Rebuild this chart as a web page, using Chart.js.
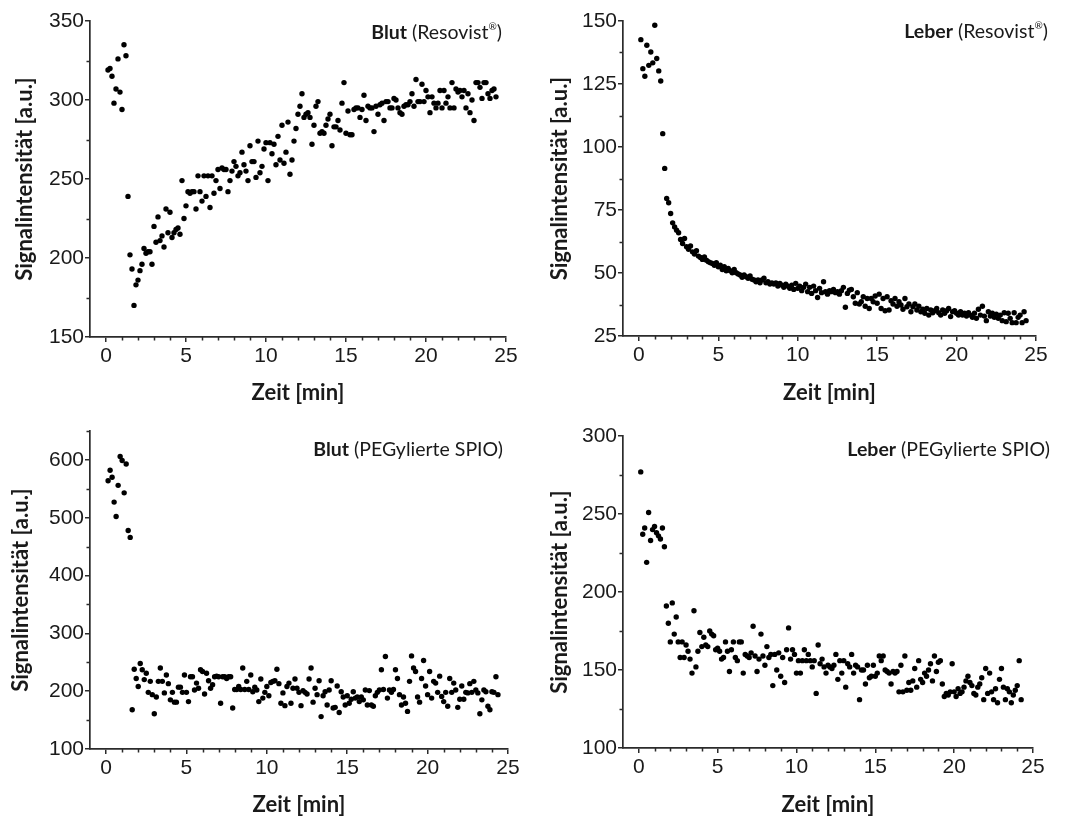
<!DOCTYPE html>
<html>
<head>
<meta charset="utf-8">
<script src="https://cdn.jsdelivr.net/npm/chart.js@4.4.1/dist/chart.umd.min.js"></script>
<style>
    html, body { margin: 0; padding: 0; background: #fff; }
    #wrap { position: relative; width: 1069px; height: 818px; overflow: hidden; }
    canvas { position: absolute; }
</style>
</head>
<body>
<div id="wrap">
    <canvas id="blutResovist" width="534" height="410" style="left:0;top:0"></canvas>
    <canvas id="leberResovist" width="535" height="410" style="left:534px;top:0"></canvas>
    <canvas id="blutPeg" width="534" height="408" style="left:0;top:410px"></canvas>
    <canvas id="leberPeg" width="535" height="408" style="left:534px;top:410px"></canvas>
</div>
<script>

// Zeitpunkte der Messungen [min]
const zeitMin = [
    0.125, 0.25, 0.375, 0.5, 0.625, 0.75, 0.875, 1,
    1.125, 1.25, 1.375, 1.5, 1.625, 1.75, 1.875, 2,
    2.125, 2.25, 2.375, 2.5, 2.625, 2.75, 2.875, 3,
    3.125, 3.25, 3.375, 3.5, 3.625, 3.75, 3.875, 4,
    4.125, 4.25, 4.375, 4.5, 4.625, 4.75, 4.875, 5,
    5.125, 5.25, 5.375, 5.5, 5.625, 5.75, 5.875, 6,
    6.125, 6.25, 6.375, 6.5, 6.625, 6.75, 6.875, 7,
    7.125, 7.25, 7.375, 7.5, 7.625, 7.75, 7.875, 8,
    8.125, 8.25, 8.375, 8.5, 8.625, 8.75, 8.875, 9,
    9.125, 9.25, 9.375, 9.5, 9.625, 9.75, 9.875, 10,
    10.125, 10.25, 10.375, 10.5, 10.625, 10.75, 10.875, 11,
    11.125, 11.25, 11.375, 11.5, 11.625, 11.75, 11.875, 12,
    12.125, 12.25, 12.375, 12.5, 12.625, 12.75, 12.875, 13,
    13.125, 13.25, 13.375, 13.5, 13.625, 13.75, 13.875, 14,
    14.125, 14.25, 14.375, 14.5, 14.625, 14.75, 14.875, 15,
    15.125, 15.25, 15.375, 15.5, 15.625, 15.75, 15.875, 16,
    16.125, 16.25, 16.375, 16.5, 16.625, 16.75, 16.875, 17,
    17.125, 17.25, 17.375, 17.5, 17.625, 17.75, 17.875, 18,
    18.125, 18.25, 18.375, 18.5, 18.625, 18.75, 18.875, 19,
    19.125, 19.25, 19.375, 19.5, 19.625, 19.75, 19.875, 20,
    20.125, 20.25, 20.375, 20.5, 20.625, 20.75, 20.875, 21,
    21.125, 21.25, 21.375, 21.5, 21.625, 21.75, 21.875, 22,
    22.125, 22.25, 22.375, 22.5, 22.625, 22.75, 22.875, 23,
    23.125, 23.25, 23.375, 23.5, 23.625, 23.75, 23.875, 24,
    24.125, 24.25, 24.375
];

const blutResovist = [
    319, 320, 315, 298, 307, 326, 305, 294, 335, 328,
    239, 202, 193, 170, 183, 186, 192, 196, 206, 203,
    204, 204, 196, 220, 210, 226, 211, 214, 207, 231,
    216, 229, 213, 216, 218, 219, 215, 249, 225, 233,
    242, 241, 242, 242, 231, 252, 242, 236, 252, 239,
    252, 232, 252, 241, 249, 256, 244, 257, 256, 256,
    242, 249, 255, 261, 258, 252, 254, 267, 259, 255,
    249, 271, 261, 261, 251, 274, 254, 258, 269, 273,
    249, 273, 266, 272, 259, 277, 262, 284, 260, 267, 286,
    253, 262, 274, 282,
    291, 296, 304, 289, 291, 292, 289, 272, 284, 296,
    299, 279, 280, 279, 284, 288, 291, 271, 283, 283,
    287, 281, 298, 311, 279, 293, 278, 278, 294, 295,
    295, 289, 294, 303, 287, 296, 295, 295, 280, 296,
    291, 297, 298, 287, 299, 299, 295, 295,
    301, 300, 295, 292, 291, 296, 297, 297, 299, 304,
    296, 313, 299, 299, 310, 299, 306, 302, 292, 302,
    298, 295, 298, 306, 295, 306, 298, 302, 295, 311,
    295, 307, 305, 306, 302, 306, 295, 304, 292, 300,
    287, 311, 311, 308, 301, 311, 311, 304, 301, 306,
    307, 302
];

const leberResovist = [
    142.6, 131.1, 128.1, 140.4, 132.4, 137.7, 133.4, 148.3, 135.1, 130.2,
    126.2, 105.3, 91.5, 79.6, 77.9, 73.6, 69.9, 68.3, 67.0, 66.0,
    63.3, 61.7, 63.7, 60.4, 59.4, 60.7, 58.4, 57.5, 58.8, 56.7,
    56.2, 55.4, 56.4, 55.1, 54.5, 54.1, 53.8, 53.1, 54.1, 52.5,
    53.1, 51.4, 52.5, 50.9, 51.8, 50.9, 50.1, 51.4, 50.1, 49.6,
    49.2, 48.3, 49.2, 48.5, 47.9, 48.8, 47.5, 47.2, 46.5, 47.2,
    46.1, 47.2, 47.9, 46.1, 46.5, 45.6, 46.1, 45.6, 46.1,
    44.8, 45.9, 45.2, 44.3, 45.6, 44.8, 43.9, 45.2, 43.5, 45.9,
    43.9, 44.8, 43.0, 44.3, 45.6, 42.6, 44.3, 41.9, 44.8, 43.0,
    40.3, 43.9, 42.2, 46.5, 42.6, 41.6, 43.0, 42.6, 43.5, 42.2,
    42.6, 41.6, 43.0, 44.3, 36.4, 41.9, 43.2, 43.5, 40.6, 38.0,
    42.2, 37.7, 38.6, 40.6, 36.8, 39.9, 35.9, 39.9, 38.6, 40.9,
    38.0, 41.6, 35.9, 39.9, 35.0, 40.6, 35.3, 39.0, 37.7, 39.9,
    36.8, 38.6, 37.3, 35.6, 39.9, 36.6, 37.7, 34.6, 36.6, 37.7,
    35.3, 36.8, 34.6, 35.6, 34.0, 35.9, 33.3, 35.3, 34.2, 35.0,
    35.9, 34.2, 33.3, 35.3, 34.0, 35.0, 35.9, 32.7, 34.6, 35.0,
    34.0, 33.3, 34.6, 33.3, 34.0, 32.9, 34.2, 33.3, 32.4, 34.0,
    32.0, 35.6, 33.3, 36.8, 32.9, 31.1, 34.6, 32.9, 34.0, 32.4,
    33.7, 32.0, 33.3, 31.1, 34.2, 30.7, 34.0, 32.0, 30.3, 34.2,
    30.3, 32.4, 33.3, 30.3, 34.6, 31.1
];

const blutPeg = [
    564, 582, 570, 527, 502, 556, 606, 599, 543, 593,
    478, 466, 168, 238, 222, 208, 248, 237, 220, 231,
    198, 217, 194, 161, 190, 217, 240, 217, 197,
    228, 213, 185, 198, 181, 181, 207, 207, 198, 228,
    198, 182, 225, 225, 202, 214, 205, 237, 234, 195,
    231, 218, 205, 211, 225, 226, 225, 179, 225, 225,
    222, 225, 225, 171, 203, 203, 208, 203, 240, 203,
    217, 203, 228, 199, 207, 202, 182, 221, 188, 198,
    208, 192, 215, 217, 218, 238, 213, 179, 197, 175,
    208, 214, 179, 205, 221, 205, 198, 175, 201, 198,
    195, 221, 240, 181, 205, 194, 218, 156, 192, 199,
    176, 202, 218, 171, 172, 209, 163, 199, 190, 176,
    192, 179, 186, 199, 188, 190, 182, 190, 185, 202,
    176, 201, 176, 174, 192, 198, 202, 237, 203, 260,
    188, 202, 198, 203, 237, 222, 194, 176, 190, 179,
    165, 217, 261, 240, 234, 190, 181, 222, 253, 209,
    194, 234, 188, 217, 214, 198, 226, 191, 182, 198,
    174, 222, 198, 214, 202, 172, 186, 209, 186, 198,
    197, 213, 198, 217, 202, 197, 161, 185, 202, 199,
    174, 168, 199, 198, 225, 194
];

const leberPeg = [
    277, 237, 241, 219, 251, 233, 240, 242, 238, 236,
    234, 241, 229, 191, 180, 168, 193, 173, 184, 168,
    158, 168, 158, 166, 162, 157, 148, 188, 152, 162,
    174, 165, 171, 166, 165, 175, 173, 172, 163, 164,
    162, 157, 158, 168, 162, 149, 163, 168, 158, 156,
    168, 168, 148, 160, 159, 158, 161, 178, 159, 149,
    157, 173, 159, 153, 165, 158, 160, 140, 160, 150,
    161, 146, 158, 142, 163, 177, 157, 163, 160, 148,
    156, 148, 156, 163, 156, 160, 156, 152, 156, 135,
    166, 154, 157, 152, 148, 153, 152, 151, 153, 160,
    144, 156, 148, 156, 139, 154, 152, 160, 148, 153,
    152, 131, 150, 150, 141, 153, 145, 146, 153, 146,
    148, 159, 156, 159, 150, 149, 148, 141, 149, 148,
    149, 136, 153, 136, 159, 137, 142, 137, 143, 151,
    139, 156, 144, 142, 148, 146, 150, 154, 143, 159,
    149, 155, 156, 141, 133, 135, 134, 136, 154, 136,
    133, 138, 135, 136, 139, 143, 146, 142, 140, 135,
    134, 139, 141, 145, 131, 151, 135, 148, 136, 131,
    138, 129, 144, 151, 139, 131, 138, 136, 129, 134,
    137, 140, 156, 131
];

const xTicks = [0, 5, 10, 15, 20, 25];
const yTicksBlutResovist = [150, 200, 250, 300, 350];
const yTicksLeberResovist = [25, 50, 75, 100, 125, 150];
const yTicksBlutPeg = [100, 200, 300, 400, 500, 600];
const yTicksLeberPeg = [100, 150, 200, 250, 300];

const axisColor = '#2b2b2b';
const textColor = '#1a1a1a';

// kleine Zwischenstriche an den Achsen
const minorTicks = {
    id: 'minorTicks',
    afterDraw(chart, args, opts) {
        const c = chart.ctx;
        const xs = chart.scales.x;
        const ys = chart.scales.y;
        c.save();
        c.strokeStyle = axisColor;
        c.lineWidth = 1.5;
        c.beginPath();
        for (let v = xs.min + 1; v <= xs.max; v += opts.x) {
            if (v % 5 === 0) continue;
            const px = Math.round(xs.getPixelForValue(v)) + 0.5;
            c.moveTo(px, ys.bottom);
            c.lineTo(px, ys.bottom + 3.5);
        }
        for (let v = ys.min + opts.y; v <= ys.max + 0.01; v += 2 * opts.y) {
            const py = Math.round(ys.getPixelForValue(v)) + 0.5;
            c.moveTo(xs.left - 3.5, py);
            c.lineTo(xs.left, py);
        }
        c.stroke();
        c.restore();
    }
};

// Beschriftung oben rechts, z.B. "Blut (Resovist®)"
const panelTitle = {
    id: 'panelTitle',
    afterDraw(chart, args, o) {
        const c = chart.ctx;
        const parts = [
            { t: o.bold, f: '700 ' + o.size + 'px Lato', dy: 0 },
            { t: o.rest, f: '400 ' + o.size + 'px Lato', dy: 0 },
            { t: o.sup || '', f: '400 ' + Math.round(o.size * 0.5) + 'px Lato', dy: -o.size * 0.45 },
            { t: o.end || '', f: '400 ' + o.size + 'px Lato', dy: 0 }
        ];
        c.save();
        c.fillStyle = textColor;
        c.textBaseline = 'alphabetic';
        let total = 0;
        parts.forEach(p => { c.font = p.f; p.w = c.measureText(p.t).width; total += p.w; });
        let x = o.right - total;
        parts.forEach(p => {
            c.font = p.f;
            c.fillText(p.t, x, o.baseline + p.dy);
            x += p.w;
        });
        c.restore();
    }
};

function scatterPanel(id, values, cfg) {

    const ctx = document.getElementById(id);
    const points = values.map((v, i) => ({ x: zeitMin[i], y: v }));
    const tickFont = { family: 'Liberation Sans', size: 21 };
    const titleFont = { family: 'Lato', size: 22, weight: 'bold' };

    new Chart(ctx, {
        type: 'scatter',
        data: {
            datasets: [{
                data: points,
                pointRadius: 2.7,
                pointBackgroundColor: '#000',
                pointBorderWidth: 0
            }]
        },
        options: {
            responsive: false,
            animation: false,
            layout: {
                padding: { top: cfg.area.top, right: ctx.width - cfg.area.right, left: 0, bottom: 0 }
            },
            plugins: {
                legend: { display: false },
                tooltip: { enabled: false },
                minorTicks: { x: 1, y: cfg.yMinor },
                panelTitle: cfg.title
            },
            scales: {
                x: {
                    type: 'linear',
                    min: -1,
                    max: 25,
                    afterBuildTicks: s => { s.ticks = xTicks.map(v => ({ value: v })); },
                    afterFit: s => { s.height = ctx.height - cfg.area.bottom; },
                    grid: { drawOnChartArea: false, tickLength: 5, color: axisColor, lineWidth: 1.5 },
                    border: { color: axisColor, width: 1.7 },
                    ticks: { color: textColor, font: tickFont, padding: 2, maxRotation: 0, autoSkip: false },
                    title: {
                        display: true,
                        text: 'Zeit [min]',
                        color: textColor,
                        font: titleFont,
                        padding: { top: 0, bottom: cfg.xTitlePad }
                    }
                },
                y: {
                    min: cfg.yMin,
                    max: cfg.yMax,
                    afterBuildTicks: s => { s.ticks = cfg.yTicks.map(v => ({ value: v })); },
                    afterFit: s => { s.width = cfg.area.left; },
                    grid: { drawOnChartArea: false, tickLength: 5, color: axisColor, lineWidth: 1.5 },
                    border: { color: axisColor, width: 1.7 },
                    ticks: { color: textColor, font: tickFont, padding: 1, autoSkip: false },
                    title: {
                        display: true,
                        text: 'Signalintensität [a.u.]',
                        color: textColor,
                        font: titleFont,
                        padding: { top: cfg.yTitlePad, bottom: 0 }
                    }
                }
            }
        },
        plugins: [minorTicks, panelTitle]
    });

}

scatterPanel('blutResovist', blutResovist, {
    area: { left: 90, right: 506, top: 21, bottom: 337 },
    yMin: 150, yMax: 350, yTicks: yTicksBlutResovist, yMinor: 25,
    xTitlePad: 4, yTitlePad: 12,
    title: { bold: 'Blut', rest: ' (Resovist', sup: '®', end: ')', size: 19.5, right: 502, baseline: 39 }
});

scatterPanel('leberResovist', leberResovist, {
    area: { left: 89, right: 502, top: 21, bottom: 336 },
    yMin: 25, yMax: 150, yTicks: yTicksLeberResovist, yMinor: 12.5,
    xTitlePad: 4, yTitlePad: 13,
    title: { bold: 'Leber', rest: ' (Resovist', sup: '®', end: ')', size: 19.5, right: 514, baseline: 38 }
});

scatterPanel('blutPeg', blutPeg, {
    area: { left: 90, right: 508, top: 21, bottom: 339 },
    yMin: 100, yMax: 650, yTicks: yTicksBlutPeg, yMinor: 50,
    xTitlePad: 0, yTitlePad: 8,
    title: { bold: 'Blut', rest: ' (PEGylierte SPIO)', size: 19.5, right: 503, baseline: 46 }
});

scatterPanel('leberPeg', leberPeg, {
    area: { left: 89, right: 499, top: 26, bottom: 338 },
    yMin: 100, yMax: 300, yTicks: yTicksLeberPeg, yMinor: 25,
    xTitlePad: 0, yTitlePad: 13,
    title: { bold: 'Leber', rest: ' (PEGylierte SPIO)', size: 19.5, right: 516, baseline: 46 }
});

</script>
</body>
</html>
